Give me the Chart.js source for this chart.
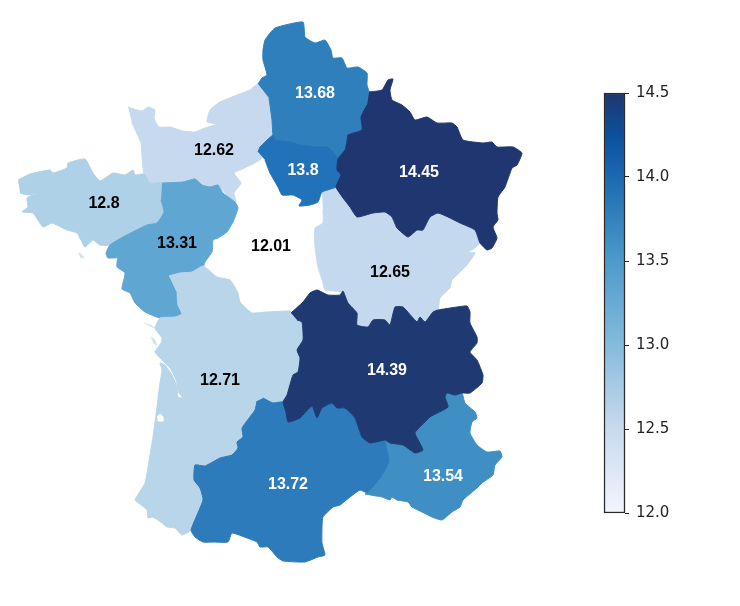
<!DOCTYPE html>
<html>
<head>
<meta charset="utf-8">
<title>Carte</title>
<script src="https://cdn.jsdelivr.net/npm/chart.js@4/dist/chart.umd.min.js"></script>
<style>
    html, body { margin: 0; padding: 0; background: #fff; }
    #mapChart { position: absolute; left: 0; top: 0; }
    #barChart { position: absolute; left: 603px; top: 83px; }
</style>
</head>
<body>
<canvas id="mapChart" width="740" height="606"></canvas>
<canvas id="barChart" width="72" height="440"></canvas>
<script>
// region values, in draw order (last one ends up on top)
const regionNames = ['Centre', 'Normandie', 'Bretagne', 'Pays de la Loire', 'Nouvelle-Aquitaine', 'Bourgogne', 'Hauts-de-France', 'Ile-de-France', 'Grand Est', 'Occitanie', 'PACA', 'Auvergne'];
const regionValues = [12.01, 12.62, 12.8, 13.31, 12.71, 12.65, 13.68, 13.8, 14.45, 13.72, 13.54, 14.39];
const regionColors = ['#ffffff', '#c6d9ee', '#aed1e7', '#5fa6d2', '#b8d5ea', '#c5d9ee', '#2f7fbd', '#2272b9', '#1f3670', '#2d7bbb', '#3f8fc4', '#1f3a73'];
const labelX = [271, 214, 104, 177, 220, 390, 315, 303, 419, 288, 443, 387];
const labelY = [247, 151, 204, 244, 381, 273, 94, 171, 173, 485, 477, 371];

// outlines, in map units
const outlineCentre = [[258,152],[261,158],[253,164],[240,170],[234,173],[241,183],[234,193],[236,202],[238,208],[233,222],[227,232],[218,238],[213,240],[212,252],[205,262],[203,266],[217,277],[230,280],[238,293],[240,302],[248,310],[252,313],[267,312],[290,311],[300,297],[318,288],[323,283],[318,267],[315,247],[315,228],[323,223],[323,210],[322,192],[318,202],[310,205],[299,206],[302,200],[293,195],[282,195],[278,187],[270,173],[265,160]];
const outlineNormandie = [[128,107],[134,109],[142,111],[148,107],[155,110],[154,118],[159,127],[170,127],[183,131],[195,132],[205,128],[217,124],[207,122],[210,110],[220,102],[237,95],[250,90],[258,84],[269,98],[272,120],[273,135],[260,147],[258,152],[262,158],[253,164],[240,170],[234,173],[241,183],[234,193],[236,202],[227,195],[218,185],[210,187],[202,185],[195,179],[183,182],[162,183],[150,183],[144,174],[142,157],[141,143],[132,123]];
const outlineBretagne = [[18,180],[30,174],[50,170],[53,173],[67,168],[68,163],[85,159],[93,173],[100,181],[113,173],[125,175],[133,170],[135,175],[144,174],[150,183],[162,183],[161,200],[164,212],[157,223],[147,225],[123,237],[110,245],[100,245],[93,240],[85,247],[77,233],[67,230],[52,223],[43,227],[33,213],[22,212],[28,207],[27,198],[37,193],[28,195],[20,193]];
const outlineLoire = [[162,183],[183,182],[195,179],[202,185],[210,187],[218,185],[223,193],[235,202],[238,208],[233,222],[227,232],[218,238],[213,240],[212,252],[205,262],[202,270],[192,272],[180,273],[169,276],[172,280],[177,293],[178,305],[182,314],[175,317],[160,318],[145,312],[135,303],[130,293],[122,289],[125,273],[117,267],[118,258],[127,257],[108,258],[106,253],[110,245],[123,237],[147,225],[157,223],[164,212],[161,200]];
const outlineAquitaine = [[169,276],[180,273],[192,272],[203,266],[217,277],[230,280],[238,293],[240,302],[248,310],[252,313],[267,312],[290,311],[291,313],[297,320],[302,322],[303,340],[297,350],[300,358],[298,372],[293,375],[287,395],[283,402],[273,403],[263,398],[257,401],[255,410],[242,428],[243,437],[237,442],[238,448],[232,455],[220,458],[205,466],[195,465],[194,480],[200,488],[203,500],[191,530],[182,535],[175,528],[167,527],[158,520],[152,517],[148,518],[147,510],[140,504],[135,500],[145,483],[148,467],[153,437],[157,407],[160,383],[162,370],[160,363],[165,365],[172,375],[177,387],[178,397],[183,398],[179,393],[176,380],[170,368],[162,360],[155,352],[161,343],[162,338],[155,328],[160,318],[175,317],[182,314],[178,305],[177,293]];
const outlineBourgogne = [[322,192],[336,187],[343,198],[350,207],[357,217],[373,213],[385,212],[392,217],[397,228],[408,237],[417,230],[423,230],[430,217],[438,213],[448,217],[460,223],[475,230],[480,243],[472,250],[468,252],[475,253],[467,265],[455,277],[452,280],[450,288],[440,298],[438,310],[433,312],[425,322],[420,317],[417,322],[403,307],[395,307],[390,325],[385,320],[373,320],[368,327],[357,325],[357,313],[347,302],[342,292],[325,290],[323,283],[318,267],[315,247],[315,228],[323,223],[323,210]];
const outlineHauts = [[258,84],[262,78],[267,75],[263,60],[263,50],[265,40],[275,28],[303,22],[305,37],[315,43],[325,40],[331,50],[333,58],[342,58],[347,68],[358,67],[367,73],[367,85],[369,92],[367,105],[361,117],[362,130],[348,135],[347,142],[345,150],[338,159],[328,147],[317,147],[300,145],[290,142],[275,140],[273,135],[272,120],[269,98]];
const outlineIdf = [[258,152],[260,147],[273,135],[275,140],[290,142],[300,145],[317,147],[328,147],[338,159],[337,170],[341,175],[336,187],[322,192],[318,202],[310,205],[299,206],[302,200],[293,195],[282,195],[278,187],[270,173],[265,160]];
const outlineGrandEst = [[369,92],[382,90],[388,80],[393,79],[390,90],[392,100],[402,105],[410,112],[415,120],[427,117],[437,123],[452,123],[457,127],[463,140],[483,143],[492,142],[497,147],[513,147],[522,153],[517,165],[512,168],[505,187],[498,197],[497,213],[498,220],[493,227],[497,238],[492,248],[487,250],[480,243],[475,230],[460,223],[448,217],[438,213],[430,217],[423,230],[417,230],[408,237],[397,228],[392,217],[385,212],[373,213],[357,217],[350,207],[343,198],[336,187],[341,175],[337,170],[338,159],[345,150],[347,142],[348,135],[362,130],[361,117],[367,105]];
const outlineOccitanie = [[263,398],[273,403],[283,402],[286,412],[288,422],[300,418],[312,406],[317,418],[322,408],[332,403],[337,408],[345,408],[355,418],[362,437],[370,443],[385,440],[390,462],[382,477],[368,493],[360,490],[350,497],[340,505],[333,507],[323,517],[322,527],[322,543],[325,555],[318,557],[305,562],[283,561],[277,557],[268,547],[260,547],[257,542],[247,538],[232,533],[228,542],[213,542],[203,542],[195,537],[191,530],[203,500],[200,488],[194,480],[195,465],[205,466],[220,458],[232,455],[238,448],[237,442],[243,437],[242,428],[255,410],[257,401]];
const outlinePaca = [[385,440],[390,443],[403,445],[415,453],[423,450],[415,433],[422,425],[430,417],[448,407],[445,397],[447,393],[455,395],[462,393],[465,403],[475,412],[477,418],[472,422],[470,433],[477,445],[487,452],[500,451],[502,457],[495,465],[493,475],[482,483],[477,488],[463,500],[460,507],[452,512],[442,520],[432,517],[422,512],[412,507],[408,502],[397,500],[392,497],[390,500],[382,497],[365,494],[368,493],[382,477],[390,462]];
const outlineAuvergne = [[291,313],[303,302],[310,293],[317,290],[328,295],[340,295],[343,291],[348,303],[357,313],[357,325],[368,327],[373,320],[385,320],[390,325],[395,307],[403,307],[417,322],[420,317],[425,322],[433,312],[438,310],[457,307],[467,306],[470,312],[470,323],[477,337],[477,343],[470,352],[477,360],[483,375],[482,383],[470,393],[462,393],[455,395],[447,393],[445,397],[448,407],[430,417],[422,425],[415,433],[423,450],[415,453],[403,445],[390,443],[385,440],[370,443],[362,437],[355,418],[345,408],[337,408],[332,403],[322,408],[317,418],[312,406],[300,418],[288,422],[286,412],[283,402],[287,395],[293,375],[298,372],[300,358],[297,350],[303,340],[302,322],[297,320]];
const regionOutlines = [outlineCentre, outlineNormandie, outlineBretagne, outlineLoire, outlineAquitaine, outlineBourgogne, outlineHauts, outlineIdf, outlineGrandEst, outlineOccitanie, outlinePaca, outlineAuvergne];

// islands and the Arcachon basin, no value attached
const outlineRe = [[144,323],[150,325],[155,328],[150,326]];
const outlineOleron = [[151,337],[154,339],[157,345],[153,343]];
const outlineYeu = [[78,253],[81,254],[84,258],[80,257]];
const outlineArcachon = [[157,417],[160,414],[163,417],[163,421],[158,421]];
const detailOutlines = [outlineRe, outlineOleron, outlineYeu, outlineArcachon];
const detailColors = ['#cfe8e2', '#cfe8e2', '#cfe8e2', '#ffffff'];

// colorbar
const barTicks = [12, 12.5, 13, 13.5, 14, 14.5];
const barStopValues = [12, 12.5, 13, 13.5, 14, 14.25, 14.5];
const barStopColors = ['#f1f6fd', '#c9daee', '#85bbdc', '#4d9acb', '#1c69b0', '#0c509c', '#1f3670'];

function polygonDataset(points, color) {
    return {
        data: points,
        showLine: true,
        pointRadius: 0,
        tension: 0.15,
        fill: 'shape',
        backgroundColor: color,
        borderColor: color,
        borderWidth: 1,
    };
}

const valueLabels = {
    id: 'valueLabels',
    afterDatasetsDraw(chart) {
        const { ctx, scales } = chart;
        ctx.save();
        ctx.font = 'bold 16px "Liberation Sans", Arial, sans-serif';
        ctx.textAlign = 'center';
        ctx.textBaseline = 'middle';
        regionValues.forEach((v, i) => {
            ctx.fillStyle = v >= 13.5 ? '#ffffff' : '#000000';
            ctx.fillText(String(v), scales.x.getPixelForValue(labelX[i]), scales.y.getPixelForValue(labelY[i]));
        });
        ctx.restore();
    },
};

// chart.js paints the first dataset last, so flip to get the draw order above
const mapDatasets = [
    ...detailOutlines.map((o, i) => polygonDataset(o, detailColors[i])),
    ...regionOutlines.map((o, i) => polygonDataset(o, regionColors[i])).reverse(),
];

new Chart(document.getElementById('mapChart'), {
    type: 'scatter',
    data: { datasets: mapDatasets },
    options: {
        responsive: false,
        animation: false,
        layout: { padding: 0 },
        plugins: { legend: { display: false }, tooltip: { enabled: false } },
        scales: {
            x: { type: 'linear', min: 0, max: 740, display: false },
            y: { type: 'linear', min: 0, max: 606, reverse: true, display: false },
        },
    },
    plugins: [valueLabels],
});

function barGradient(context) {
    const { chart } = context;
    if (!chart.chartArea) return barStopColors[0];
    const y = chart.scales.y;
    const top = y.getPixelForValue(14.5);
    const bottom = y.getPixelForValue(12);
    const g = chart.ctx.createLinearGradient(0, bottom, 0, top);
    barStopValues.forEach((v, i) => g.addColorStop((v - 12) / 2.5, barStopColors[i]));
    return g;
}

new Chart(document.getElementById('barChart'), {
    type: 'bar',
    data: {
        labels: [''],
        datasets: [{
            data: [[barTicks[0], barTicks[barTicks.length - 1]]],
            backgroundColor: barGradient,
            borderColor: '#2a2a2a',
            borderWidth: 1.5,
            borderSkipped: false,
            barPercentage: 1,
            categoryPercentage: 1,
            clip: false,
        }],
    },
    options: {
        responsive: false,
        animation: false,
        layout: { padding: { left: 1, top: 10, bottom: 10 } },
        plugins: { legend: { display: false }, tooltip: { enabled: false } },
        scales: {
            x: { display: false },
            y: {
                position: 'right',
                min: 12,
                max: 14.5,
                afterFit: (s) => { s.width = 50; s.paddingTop = 0; s.paddingBottom = 0; },
                afterBuildTicks: (s) => { s.ticks = barTicks.map((value) => ({ value })); },
                grid: { drawOnChartArea: false, color: '#222', tickLength: 4 },
                border: { display: false },
                ticks: {
                    color: '#222',
                    padding: 7,
                    font: { family: '"DejaVu Sans"', size: 15 },
                    callback: (v) => v.toFixed(1),
                },
            },
        },
    },
});
</script>
</body>
</html>
